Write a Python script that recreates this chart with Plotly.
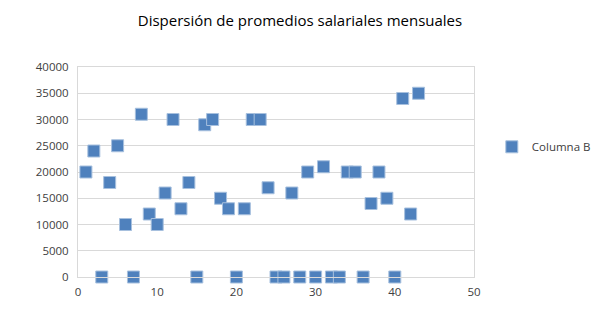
import plotly.graph_objects as go

# Monthly salary averages, one value per observation index
indices = list(range(1, 44))
salaries = [
    20000, 24000, 0, 18000, 25000, 10000, 0, 31000, 12000, 10000,
    16000, 30000, 13000, 18000, 0, 29000, 30000, 15000, 13000, 0,
    13000, 30000, 30000, 17000, 0, 0, 16000, 0, 20000, 0,
    21000, 0, 0, 20000, 20000, 0, 14000, 20000, 15000, 0,
    34000, 12000, 35000,
]
series_name = "Columna B"
chart_title = "Dispersión de promedios salariales mensuales"

x_ticks = [0, 10, 20, 30, 40, 50]
y_ticks = list(range(0, 40001, 5000))
y_tick_labels = [str(v) for v in y_ticks]

fig = go.Figure()
fig.add_trace(go.Scatter(
    x=indices,
    y=salaries,
    mode="markers",
    name=series_name,
    marker=dict(
        symbol="square",
        size=12,
        color="#4F81BD",
        line=dict(color="#A7C0DE", width=1),
    ),
    cliponaxis=False,
))

font_family = "Open Sans, Liberation Sans, sans-serif"
axis_font = dict(family=font_family, size=11.5, color="#404040")

fig.update_layout(
    width=606,
    height=324,
    margin=dict(l=78, r=132, t=67, b=47, autoexpand=False),
    paper_bgcolor="white",
    plot_bgcolor="white",
    title=dict(
        text=chart_title,
        x=0.495,
        xanchor="center",
        y=0.935,
        yanchor="middle",
        font=dict(family=font_family, size=15, color="#000000"),
    ),
    xaxis=dict(
        range=[0, 50],
        tickvals=x_ticks,
        showgrid=False,
        zeroline=False,
        showline=True,
        linecolor="#D9D9D9",
        linewidth=1,
        mirror=True,
        ticks="",
        tickfont=axis_font,
        ticklabelstandoff=4,
    ),
    yaxis=dict(
        range=[0, 40000],
        tickvals=y_ticks,
        ticktext=y_tick_labels,
        showgrid=True,
        gridcolor="#D9D9D9",
        gridwidth=1,
        zeroline=False,
        showline=True,
        linecolor="#D9D9D9",
        linewidth=1,
        mirror=True,
        ticks="",
        tickfont=axis_font,
        ticklabelstandoff=6,
    ),
    showlegend=True,
    legend=dict(
        x=1.045,
        xanchor="left",
        y=0.62,
        yanchor="middle",
        font=dict(family=font_family, size=11.5, color="#404040"),
        bgcolor="rgba(0,0,0,0)",
        itemwidth=30,
    ),
)

fig.write_html("out.html")
